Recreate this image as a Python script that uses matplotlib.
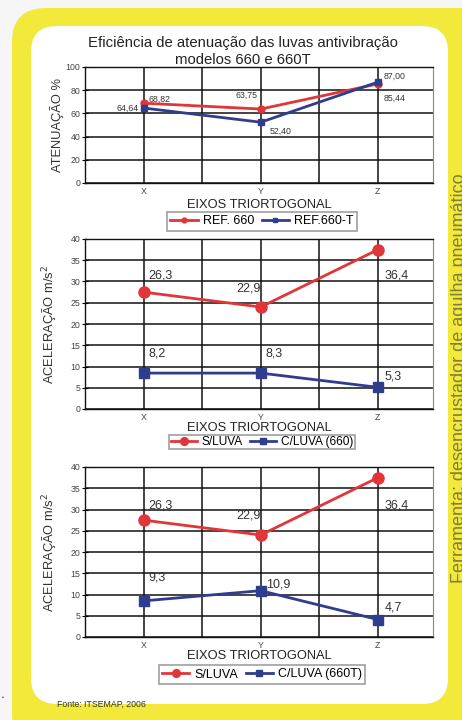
import numpy as np
import matplotlib
matplotlib.use("Agg")
import matplotlib.pyplot as plt
from matplotlib.patches import FancyBboxPatch, Rectangle

plt.rcParams['font.family'] = ['Liberation Sans', 'DejaVu Sans']

# data
eixos = ["X", "Y", "Z"]

atenuacao_660 = [68.82, 63.75, 85.44]
atenuacao_660t = [64.64, 52.40, 87.00]
atenuacao_lbl_660 = ["68,82", "63,75", "85,44"]
atenuacao_lbl_660t = ["64,64", "52,40", "87,00"]

sem_luva = [27.5, 24.0, 37.5]
sem_luva_lbl = ["26,3", "22,9", "36,4"]
com_luva_660 = [8.45, 8.45, 5.1]
com_luva_660_lbl = ["8,2", "8,3", "5,3"]
com_luva_660t = [8.5, 10.9, 4.1]
com_luva_660t_lbl = ["9,3", "10,9", "4,7"]

RED = "#e0363a"
BLUE = "#2f3d8e"
YELLOW = "#f2e93a"
W, H = 462, 720

fig = plt.figure(figsize=(W / 100, H / 100), dpi=100)
fig.patch.set_facecolor("#f6f6f6")

# background (pixel coords)
bg = fig.add_axes([0, 0, 1, 1])
bg.set_xlim(0, W)
bg.set_ylim(H, 0)
bg.axis("off")
bg.add_patch(FancyBboxPatch((12, 8), 480, 740, boxstyle="round,pad=0,rounding_size=34",
                            facecolor=YELLOW, edgecolor="none"))
bg.add_patch(FancyBboxPatch((31, 26), 417, 678, boxstyle="round,pad=0,rounding_size=26",
                            facecolor="white", edgecolor="none"))
bg.text(243, 43, "Eficiência de atenuação das luvas antivibração", ha="center", va="center",
        fontsize=10.7, color="#222222")
bg.text(243, 60, "modelos 660 e 660T", ha="center", va="center", fontsize=10.7, color="#222222")
bg.text(57, 704, "Fonte: ITSEMAP, 2006", ha="left", va="center", fontsize=6.3, color="#333333")
bg.text(460, 378, "Ferramenta: desencrustador de agulha pneumático", rotation=90,
        ha="center", va="center", fontsize=13, color="#807c3c")
bg.text(3, 698, "•", ha="center", va="center", fontsize=4, color="#333333")


def px_axes(left, top, right, bottom):
    return fig.add_axes([left / W, 1 - bottom / H, (right - left) / W, (bottom - top) / H])


def style(ax, ymax, step, ylabel, ylab_x, lpad):
    x = np.arange(1, len(eixos) + 1)
    ax.set_xlim(0.5, 3.47)
    ax.set_ylim(0, ymax)
    ax.set_yticks(np.arange(0, ymax + 0.1, step))
    ax.set_xticks(x)
    ax.set_xticklabels(eixos)
    for v in np.arange(0, ymax + 0.1, step):
        ax.axhline(v, color="#111111", lw=1.1, zorder=1)
    for v in [1, 1.5, 2, 2.5, 3]:
        ax.axvline(v, color="#111111", lw=1.1, zorder=1)
    for s in ["top", "bottom", "left"]:
        ax.spines[s].set_color("#111111")
        ax.spines[s].set_linewidth(1.0)
    ax.spines["right"].set_color("#888888")
    ax.tick_params(axis="y", direction="inout", length=5, width=0.8, labelsize=6.3,
                   labelcolor="#444444", pad=1)
    ax.tick_params(axis="x", length=0, labelsize=6.3, labelcolor="#444444", pad=3)
    ax.set_xlabel("EIXOS TRIORTOGONAL", fontsize=9.3, color="#222222", labelpad=lpad)
    fig.text(ylab_x / W, 0.5 * (ax.get_position().y0 + ax.get_position().y1), ylabel,
             rotation=90, ha="center", va="center", fontsize=9.3, color="#333333")


def series(ax, vals, color, marker, ms, label):
    x = np.arange(1, len(vals) + 1)
    ax.plot(x, vals, color=color, lw=2, marker=marker, ms=ms, label=label, zorder=3)


def labels(ax, vals, texts, offsets, fs):
    x = np.arange(1, len(vals) + 1)
    for xi, v, t, (dx, dy, ha) in zip(x, vals, texts, offsets):
        ax.annotate(t, (xi, v), xytext=(dx, dy), textcoords="offset pixels", ha=ha,
                    va="center", fontsize=fs, color="#333333", zorder=4)


def legend(ax, cy, fs, bpad):
    lg = ax.legend(loc="center", bbox_to_anchor=(262 / W, 1 - cy / H),
                   bbox_transform=fig.transFigure, ncol=2, fontsize=fs, frameon=True,
                   fancybox=False, edgecolor="#888888", handlelength=2.2, handletextpad=0.4,
                   columnspacing=0.6, borderpad=bpad, markerscale=0.7)
    lg.get_frame().set_linewidth(1.2)


# panel 1
ax1 = px_axes(85, 67, 433, 183)
style(ax1, 100, 20, "ATENUAÇÃO %", 57, 2)
series(ax1, atenuacao_660, RED, "o", 5, "REF. 660")
series(ax1, atenuacao_660t, BLUE, "s", 5, "REF.660-T")
labels(ax1, atenuacao_660, atenuacao_lbl_660, [(5, 4, "left"), (-3, 14, "right"), (6, -14, "left")], 6.3)
labels(ax1, atenuacao_660t, atenuacao_lbl_660t, [(-5, 0, "right"), (9, -9, "left"), (6, 6, "left")], 6.3)
legend(ax1, 221.5, 9, 0.25)

# panel 2
ax2 = px_axes(85, 239, 433, 409)
style(ax2, 40, 5, "ACELERAÇÃO m/s$^2$", 50, 0)
series(ax2, sem_luva, RED, "o", 8, "S/LUVA")
series(ax2, com_luva_660, BLUE, "s", 6.5, "C/LUVA (660)")
labels(ax2, sem_luva, sem_luva_lbl, [(5, 17, "left"), (0, 18, "right"), (7, -26, "left")], 9)
labels(ax2, com_luva_660, com_luva_660_lbl, [(5, 20, "left"), (5, 20, "left"), (7, 11, "left")], 9)
legend(ax2, 442, 8.6, 0.1)

# panel 3
ax3 = px_axes(85, 467, 433, 637)
style(ax3, 40, 5, "ACELERAÇÃO m/s$^2$", 50, 0)
series(ax3, sem_luva, RED, "o", 8, "S/LUVA")
series(ax3, com_luva_660t, BLUE, "s", 6.5, "C/LUVA (660T)")
labels(ax3, sem_luva, sem_luva_lbl, [(5, 15, "left"), (0, 19, "right"), (7, -28, "left")], 9)
labels(ax3, com_luva_660t, com_luva_660t_lbl, [(5, 23, "left"), (5, 6, "left"), (7, 12, "left")], 9)
legend(ax3, 674.5, 9, 0.25)

fig.savefig("out.png", dpi=100, facecolor=fig.get_facecolor())
